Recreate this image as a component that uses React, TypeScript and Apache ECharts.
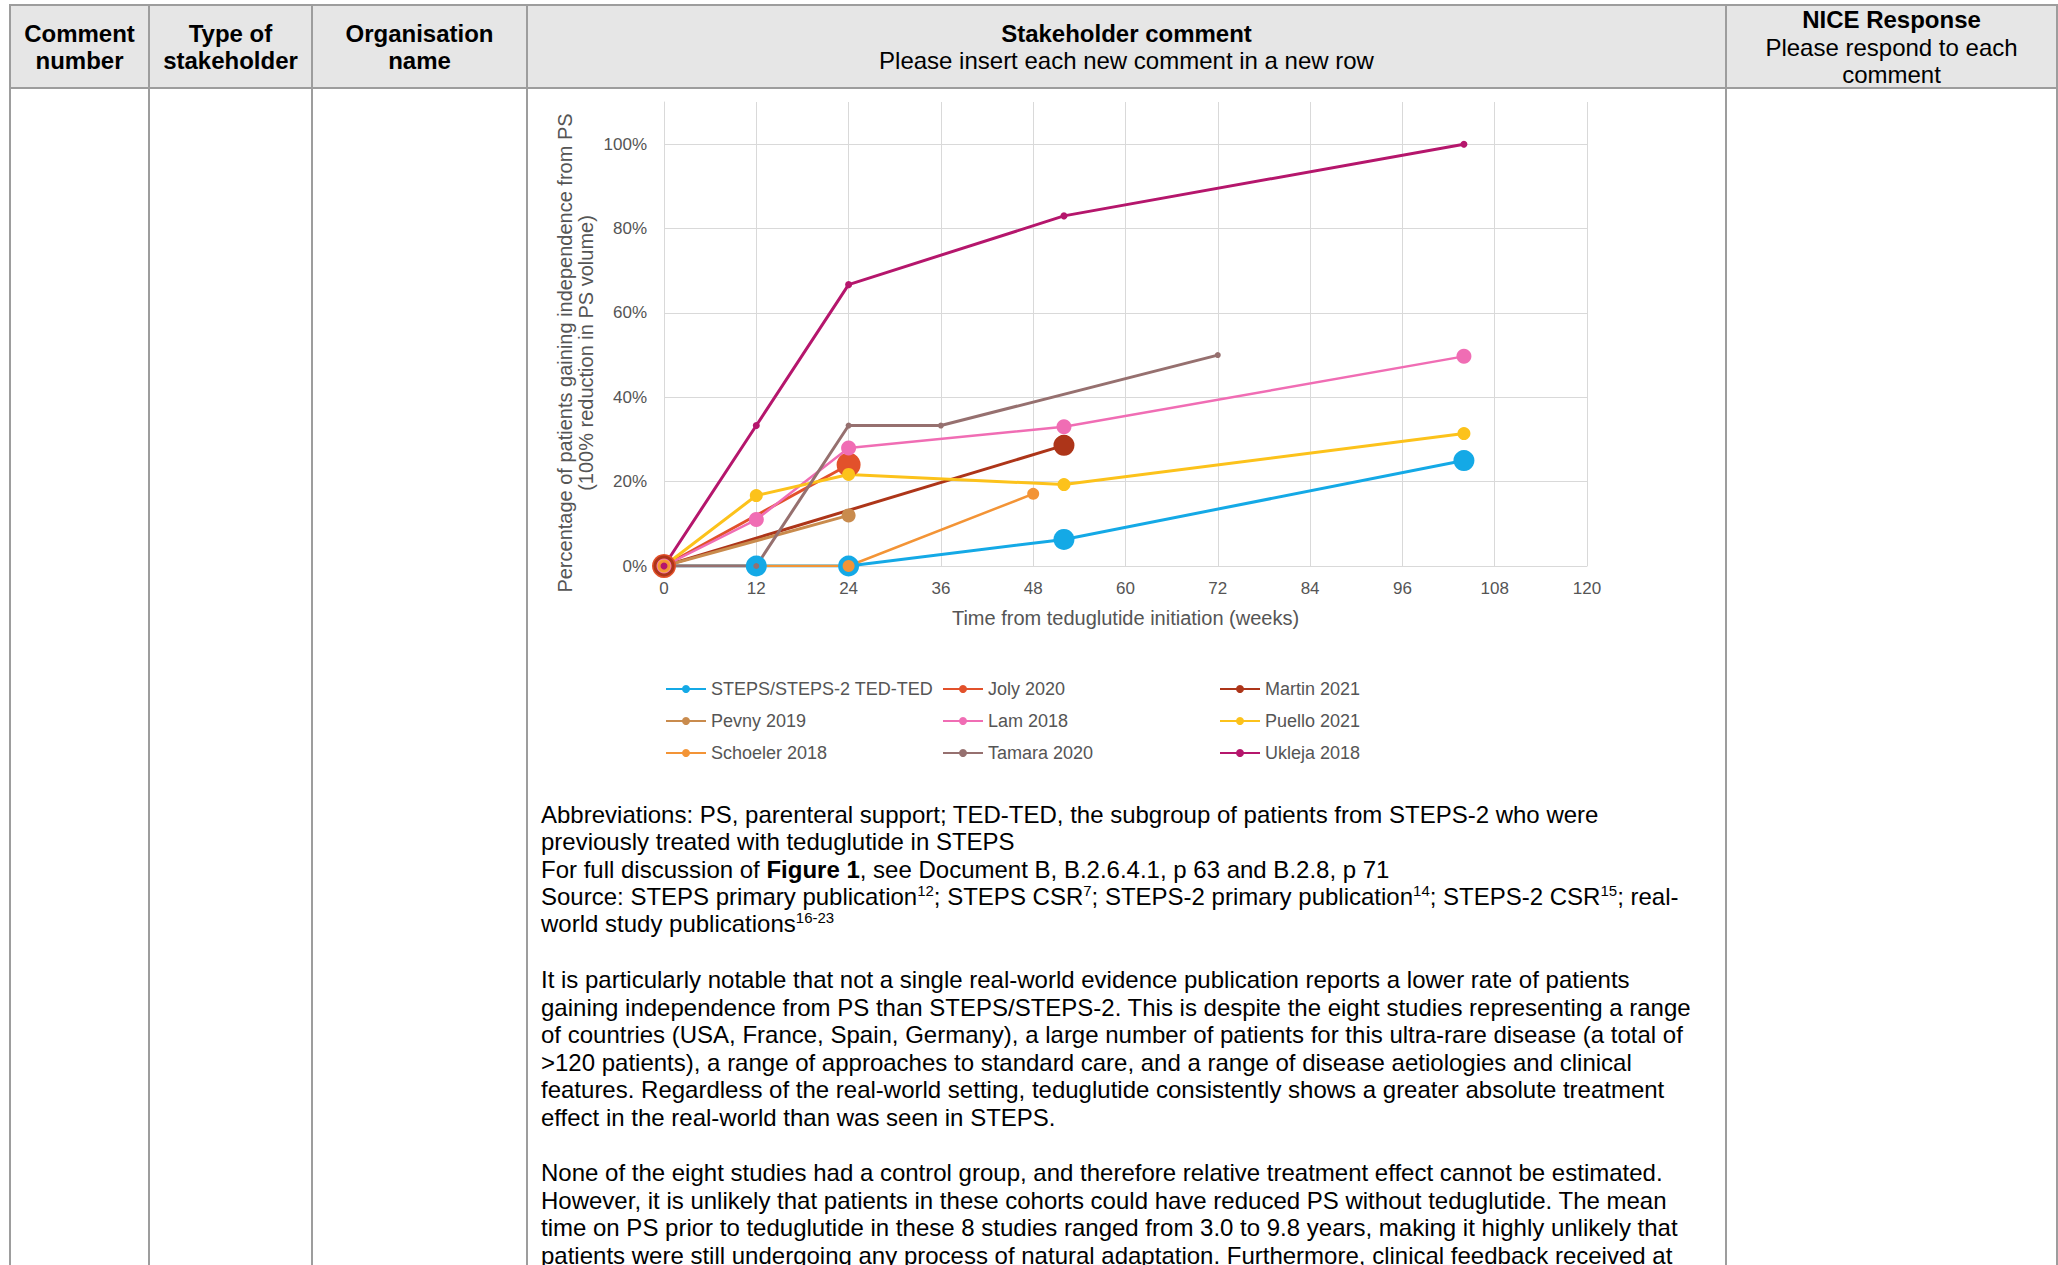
import React, { useEffect, useRef } from 'react';
import * as echarts from 'echarts';

// ---------- data ----------
const seriesNames = [
  'STEPS/STEPS-2 TED-TED',
  'Joly 2020',
  'Martin 2021',
  'Pevny 2019',
  'Lam 2018',
  'Puello 2021',
  'Schoeler 2018',
  'Tamara 2020',
  'Ukleja 2018',
];

// [weeks, % of patients]
const stepsTedTed = [[0, 0], [12, 0], [24, 0], [52, 6.3], [104, 25]];
const joly2020 = [[0, 0], [24, 24]];
const martin2021 = [[0, 0], [52, 28.6]];
const pevny2019 = [[0, 0], [24, 12]];
const lam2018 = [[0, 0], [12, 11], [24, 28], [52, 33], [104, 49.7]];
const puello2021 = [[0, 0], [12, 16.7], [24, 21.7], [52, 19.3], [104, 31.4]];
const schoeler2018 = [[0, 0], [24, 0], [48, 17.1]];
const tamara2020 = [[0, 0], [12, 0], [24, 33.3], [36, 33.3], [72, 50]];
const ukleja2018 = [[0, 0], [12, 33.3], [24, 66.7], [52, 83], [104, 100]];

const seriesData = [
  stepsTedTed, joly2020, martin2021, pevny2019, lam2018,
  puello2021, schoeler2018, tamara2020, ukleja2018,
];

const legendColumns = [
  ['STEPS/STEPS-2 TED-TED', 'Pevny 2019', 'Schoeler 2018'],
  ['Joly 2020', 'Lam 2018', 'Tamara 2020'],
  ['Martin 2021', 'Puello 2021', 'Ukleja 2018'],
];

const yAxisTitle = 'Percentage of patients gaining independence from PS\n(100% reduction in PS volume)';
const xAxisTitle = 'Time from teduglutide initiation (weeks)';

// ---------- styles ----------
const seriesStyle: Record<string, { color: string; size: number; width: number }> = {
  'STEPS/STEPS-2 TED-TED': { color: '#14a9e6', size: 21, width: 3 },
  'Joly 2020': { color: '#e2512b', size: 24, width: 3 },
  'Martin 2021': { color: '#ad3519', size: 21, width: 3 },
  'Pevny 2019': { color: '#c98b4d', size: 14, width: 3 },
  'Lam 2018': { color: '#f06db4', size: 15, width: 2.5 },
  'Puello 2021': { color: '#fcc21b', size: 13, width: 3 },
  'Schoeler 2018': { color: '#f39436', size: 12, width: 2.5 },
  'Tamara 2020': { color: '#96706f', size: 6, width: 3 },
  'Ukleja 2018': { color: '#b5166c', size: 7, width: 3 },
};

const FONT = '"Liberation Sans", Arial, Helvetica, sans-serif';
const GREY_TEXT = '#555555';
const GRID_COLOR = '#d9d9d9';
const BORDER = '#9d9d9d';

function Chart() {
  const ref = useRef<HTMLDivElement>(null);
  useEffect(() => {
    if (!ref.current) return;
    const chart = echarts.init(ref.current, null, { renderer: 'svg' });
    const legendLefts = [665, 942, 1219];
    chart.setOption({
      animation: false,
      backgroundColor: 'transparent',
      textStyle: { fontFamily: FONT },
      grid: { left: 664, top: 102, width: 923, height: 464 },
      xAxis: {
        type: 'value',
        min: 0,
        max: 120,
        interval: 12,
        axisLine: { show: true, lineStyle: { color: GRID_COLOR, width: 1 } },
        axisTick: { show: false },
        axisLabel: { color: GREY_TEXT, fontSize: 17, margin: 14, fontFamily: FONT },
        splitLine: { show: true, lineStyle: { color: GRID_COLOR, width: 1 } },
      },
      yAxis: {
        type: 'value',
        min: 0,
        max: 110,
        interval: 20,
        axisLine: { show: true, lineStyle: { color: GRID_COLOR, width: 1 } },
        axisTick: { show: false },
        axisLabel: {
          color: GREY_TEXT,
          fontSize: 17,
          margin: 17,
          fontFamily: FONT,
          showMaxLabel: false,
          formatter: (v: number) => (v % 20 === 0 ? v + '%' : ''),
        },
        splitLine: { show: true, showMaxLine: false, lineStyle: { color: GRID_COLOR, width: 1 } },
      },
      legend: legendColumns.map((col, i) => ({
        orient: 'vertical',
        left: legendLefts[i],
        top: 679,
        data: col,
        itemWidth: 40,
        itemHeight: 10,
        itemGap: 12,
        padding: 0,
        selectedMode: false,
        textStyle: { color: GREY_TEXT, fontSize: 18, lineHeight: 20, fontFamily: FONT, padding: [0, 0, 0, 0] },
      })),
      graphic: [
        {
          type: 'text',
          x: 575.5,
          y: 353,
          rotation: Math.PI / 2,
          style: {
            text: yAxisTitle,
            fontSize: 20,
            fontFamily: FONT,
            fill: GREY_TEXT,
            align: 'center',
            verticalAlign: 'middle',
            lineHeight: 21,
          },
        },
        {
          type: 'text',
          x: 1125.5,
          y: 618,
          style: {
            text: xAxisTitle,
            fontSize: 20,
            fontFamily: FONT,
            fill: GREY_TEXT,
            align: 'center',
            verticalAlign: 'middle',
          },
        },
      ],
      series: seriesNames.map((name, i) => {
        const st = seriesStyle[name];
        return {
          name,
          type: 'line',
          data: seriesData[i],
          symbol: 'circle',
          showSymbol: true,
          symbolSize: st.size,
          color: st.color,
          lineStyle: { color: st.color, width: st.width },
          itemStyle: { color: st.color },
          emphasis: { disabled: true },
          z: 2,
        };
      }),
    });
    return () => chart.dispose();
  }, []);
  return (
    <div
      ref={ref}
      style={{ position: 'absolute', left: 0, top: 0, width: 2058, height: 1265 }}
    />
  );
}

const hLine = (top: number): React.CSSProperties => ({
  position: 'absolute', left: 9, top, width: 2049, height: 2, background: BORDER,
});
const vLine = (left: number): React.CSSProperties => ({
  position: 'absolute', left, top: 4, width: 2, height: 1265, background: BORDER,
});

function HeaderCell(props: { left: number; width: number; top: number; children: React.ReactNode }) {
  return (
    <div
      style={{
        position: 'absolute', left: props.left, width: props.width, top: props.top,
        textAlign: 'center', fontSize: 24, lineHeight: '27.5px', whiteSpace: 'nowrap',
      }}
    >
      {props.children}
    </div>
  );
}

function Line(props: { center: number; children: React.ReactNode }) {
  return (
    <div
      style={{
        position: 'absolute', left: 541, top: props.center - 14, fontSize: 24,
        lineHeight: '27.5px', whiteSpace: 'nowrap',
      }}
    >
      {props.children}
    </div>
  );
}

const supStyle: React.CSSProperties = { fontSize: 15, verticalAlign: 'super', lineHeight: 0 };

export default function App() {
  return (
    <div
      style={{
        position: 'absolute', left: 0, top: 0, width: 2058, height: 1265, overflow: 'hidden',
        background: '#ffffff', fontFamily: FONT, color: '#000',
      }}
    >
      <div style={{ position: 'absolute', left: 10, top: 5, width: 2048, height: 83, background: '#e6e6e6' }} />
      <div style={hLine(4)} />
      <div style={hLine(87)} />
      <div style={vLine(9)} />
      <div style={vLine(148)} />
      <div style={vLine(311)} />
      <div style={vLine(526)} />
      <div style={vLine(1725)} />
      <div style={vLine(2056)} />

      <HeaderCell left={11} width={137} top={19.5}><b>Comment</b><br /><b>number</b></HeaderCell>
      <HeaderCell left={150} width={161} top={19.5}><b>Type of</b><br /><b>stakeholder</b></HeaderCell>
      <HeaderCell left={313} width={213} top={19.5}><b>Organisation</b><br /><b>name</b></HeaderCell>
      <HeaderCell left={528} width={1197} top={19.5}><b>Stakeholder comment</b><br />Please insert each new comment in a new row</HeaderCell>
      <HeaderCell left={1727} width={329} top={6}><b>NICE Response</b><br />Please respond to each<br />comment</HeaderCell>

      <Line center={815}>Abbreviations: PS, parenteral support; TED-TED, the subgroup of patients from STEPS-2 who were</Line>
      <Line center={842}>previously treated with teduglutide in STEPS</Line>
      <Line center={870}>For full discussion of <b>Figure 1</b>, see Document B, B.2.6.4.1, p 63 and B.2.8, p 71</Line>
      <Line center={897}>
        Source: STEPS primary publication<sup style={supStyle}>12</sup>; STEPS CSR<sup style={supStyle}>7</sup>; STEPS-2 primary publication<sup style={supStyle}>14</sup>; STEPS-2 CSR<sup style={supStyle}>15</sup>; real-
      </Line>
      <Line center={924}>world study publications<sup style={supStyle}>16-23</sup></Line>

      <Line center={980}>It is particularly notable that not a single real-world evidence publication reports a lower rate of patients</Line>
      <Line center={1008}>gaining independence from PS than STEPS/STEPS-2. This is despite the eight studies representing a range</Line>
      <Line center={1035}>of countries (USA, France, Spain, Germany), a large number of patients for this ultra-rare disease (a total of</Line>
      <Line center={1063}>&gt;120 patients), a range of approaches to standard care, and a range of disease aetiologies and clinical</Line>
      <Line center={1090}>features. Regardless of the real-world setting, teduglutide consistently shows a greater absolute treatment</Line>
      <Line center={1118}>effect in the real-world than was seen in STEPS.</Line>

      <Line center={1173}>None of the eight studies had a control group, and therefore relative treatment effect cannot be estimated.</Line>
      <Line center={1201}>However, it is unlikely that patients in these cohorts could have reduced PS without teduglutide. The mean</Line>
      <Line center={1228}>time on PS prior to teduglutide in these 8 studies ranged from 3.0 to 9.8 years, making it highly unlikely that</Line>
      <Line center={1256}>patients were still undergoing any process of natural adaptation. Furthermore, clinical feedback received at</Line>

      <Chart />
    </div>
  );
}
